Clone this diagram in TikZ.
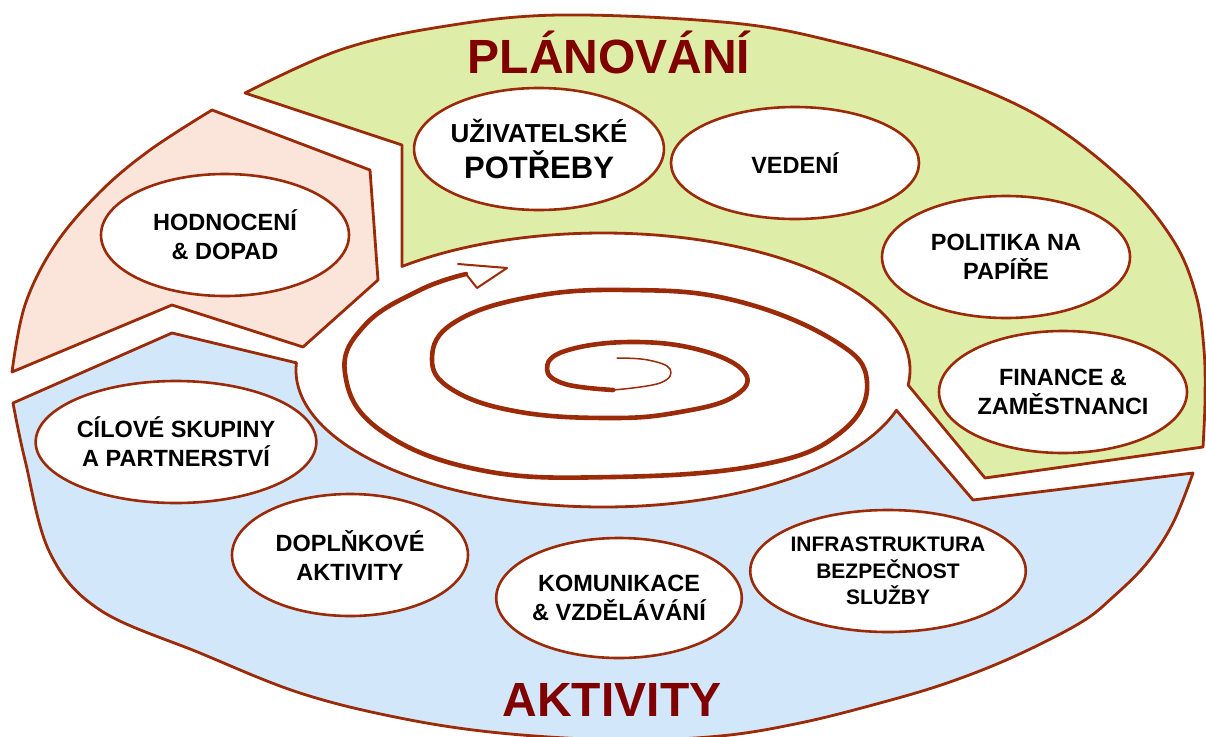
\documentclass[tikz,border=0pt]{standalone}
\usepackage{fontspec}
\setmainfont{Liberation Sans}
\usetikzlibrary{shapes.geometric,calc}
\definecolor{brn}{RGB}{155,42,8}
\definecolor{gfill}{RGB}{222,237,168}
\definecolor{pfill}{RGB}{251,228,217}
\definecolor{bfill}{RGB}{210,231,250}
\definecolor{ttl}{RGB}{128,0,0}
\newcommand\lblfont{\fontsize{23.5}{29}\selectfont\bfseries}
\begin{document}
\begin{tikzpicture}[x=1pt,y=-1pt,
  region/.style={draw=brn,line width=2.8pt,line join=round},
  bubble/.style={ellipse,draw=brn,line width=2.6pt,fill=white,minimum width=248pt,minimum height=122pt,inner sep=0pt,align=center,font=\lblfont},
  titletext/.style={text=ttl,font=\fontsize{48}{48}\selectfont\bfseries,anchor=base},
  spiral/.style={draw=brn,line cap=round,line join=round}]
\useasboundingbox (0,0) rectangle (1206,736);
\fill[white] (0,0) rectangle (1206,736);
\clip (0,0) rectangle (1206,736);
\coordinate (I) at (603,370);

% green: planning
\path[region,fill=gfill] plot[smooth,tension=0.6] coordinates {(245,93) (340,50) (440,27) (560,15) (733,23) (840,43) (940,73) (1040,117) (1123,180) (1173,240) (1196,295) (1204,350) (1205,400) (1203,447)}
  -- (985,478) -- ($(I)+(6.3:307 and 137)$) arc[start angle=6.3,end angle=-130.9,x radius=307,y radius=137]
  -- (402,145) -- cycle;

% pink: evaluation
\path[region,fill=pfill] (212,110) -- (370,170) -- (378,280) -- (303,347) -- (172,305) -- (12,372)
  -- plot[smooth,tension=0.6] coordinates {(12,372) (25,305) (55,245) (100,192) (150,150) (212,110)} -- cycle;

% blue: activities
\path[region,fill=bfill] (13,403) -- (172,333) -- ($(I)+(183:307 and 137)$)
  arc[start angle=183,end angle=17.1,x radius=307,y radius=137]
  -- (973,500)
  -- plot[smooth,tension=0.6] coordinates {(1193,473) (1173,523) (1147,563) (1113,597) (1080,623) (1013,657) (947,683) (880,703) (800,723) (720,736) (620,740) (500,733) (400,718) (300,693) (200,653) (100,610) (50,553) (25,460) (13,403)} -- cycle;

% spiral
\draw[spiral,line width=1.5pt] plot[smooth,tension=0.7] coordinates {(617,358) (648,360) (670,369) (660,383) (613,390)};
\draw[spiral,line width=4.6pt] plot[smooth,tension=0.7] coordinates {(613,390) (565,384) (547,369) (565,351) (630,342) (700,350) (745,373) (733,397) (680,412) (613,418) (520,412) (453,390) (432,358) (455,322) (530,297) (627,290) (733,300) (833,340) (867,382) (840,433) (760,465) (613,477) (480,470) (380,430) (345,373) (365,325) (420,290) (466,274)};
\draw[spiral,line width=2pt] (458,264) -- (507,268) -- (477,288) -- (466,274);

% titles
\node[titletext] (plan) at (609,73) {PLÁNOVÁNÍ};
\node[titletext] (akt) at (612,716) {AKTIVITY};

% bubbles
\node[bubble,font=\fontsize{31}{36}\selectfont\bfseries] (uziv) at (539,149) {{\fontsize{26}{30}\selectfont UŽIVATELSKÉ}\\POTŘEBY};
\node[bubble,minimum height=112pt] (vedeni) at (795,163) {VEDENÍ};
\node[bubble] (politika) at (1006,257) {POLITIKA NA\\PAPÍŘE};
\node[bubble] (finance) at (1063,392) {FINANCE \&\\ZAMĚSTNANCI};
\node[bubble] (hodnoceni) at (225,235) {HODNOCENÍ\\\& DOPAD};
\node[bubble] (cilove) at (176,442) {CÍLOVÉ SKUPINY\\A PARTNERSTVÍ};
\node[bubble,minimum width=236pt] (doplnk) at (350,555) {DOPLŇKOVÉ\\AKTIVITY};
\node[bubble,minimum width=244pt,minimum height=120pt] (komun) at (619,598) {KOMUNIKACE\\\& VZDĚLÁVÁNÍ};
\node[bubble,font=\fontsize{21}{26.5}\selectfont\bfseries] (infra) at (888,571) {INFRASTRUKTURA\\BEZPEČNOST\\SLUŽBY};
\end{tikzpicture}
\end{document}
